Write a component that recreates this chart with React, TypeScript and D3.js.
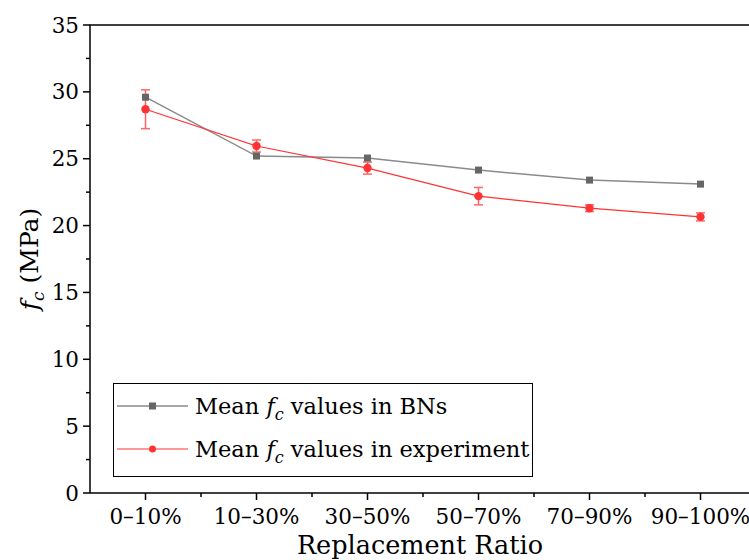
import React from "react";
import * as d3 from "d3";

const categories = ["0–10%", "10–30%", "30–50%", "50–70%", "70–90%", "90–100%"];
const bnValues = [29.6, 25.2, 25.05, 24.15, 23.4, 23.1];
const expValues = [28.7, 25.95, 24.3, 22.2, 21.3, 20.65];
const expErrors = [1.45, 0.45, 0.45, 0.65, 0.25, 0.3];
const yTicks = [0, 5, 10, 15, 20, 25, 30, 35];

const W = 749;
const H = 560;
const margin = { left: 90, top: 25, right: -7, bottom: 67 };
const FONT = "DejaVu Serif, serif";
const GRAY = "#666666";
const GRAY_LINE = "#8a8a8a";
const RED = "#ff3333";

export default function App() {
  const x = d3
    .scaleLinear()
    .domain([-0.5, categories.length - 0.5])
    .range([margin.left, W - margin.right]);
  const y = d3.scaleLinear().domain([0, 35]).range([H - margin.bottom, margin.top]);

  const line = d3
    .line<number>()
    .x((d, i) => x(i))
    .y((d) => y(d));

  const minorY = d3.range(2.5, 35, 5);
  const minorX = d3.range(0.5, categories.length - 0.5, 1);
  const x0 = margin.left;
  const yb = H - margin.bottom;

  return (
    <svg width={W} height={H} style={{ position: "absolute", left: 0, top: 0, fontFamily: FONT }}>
      <rect width={W} height={H} fill="#fff" />
      {/* frame */}
      <path
        d={`M${x0},${yb}V${margin.top}H${W + 10}`}
        fill="none"
        stroke="#000"
        strokeWidth={1.5}
      />
      <line x1={x0} x2={W + 10} y1={yb} y2={yb} stroke="#000" strokeWidth={1.5} />
      {/* y ticks */}
      {yTicks.map((t) => (
        <g key={t}>
          <line x1={x0 - 7} x2={x0} y1={y(t)} y2={y(t)} stroke="#000" strokeWidth={1.5} />
          <text x={x0 - 11} y={y(t)} dy="0.35em" textAnchor="end" fontSize={21.5}>
            {t}
          </text>
        </g>
      ))}
      {minorY.map((t) => (
        <line key={t} x1={x0 - 4} x2={x0} y1={y(t)} y2={y(t)} stroke="#000" strokeWidth={1.5} />
      ))}
      {/* x ticks */}
      {categories.map((c, i) => (
        <g key={c}>
          <line x1={x(i)} x2={x(i)} y1={yb} y2={yb + 7} stroke="#000" strokeWidth={1.5} />
          <text x={x(i)} y={yb + 31} textAnchor="middle" fontSize={21.5}>
            {c}
          </text>
        </g>
      ))}
      {minorX.map((t) => (
        <line key={t} x1={x(t)} x2={x(t)} y1={yb} y2={yb + 4} stroke="#000" strokeWidth={1.5} />
      ))}
      {/* axis titles */}
      <text x={420} y={554} textAnchor="middle" fontSize={25.5}>
        Replacement Ratio
      </text>
      <text transform={`translate(38,${y(17.5)}) rotate(-90)`} textAnchor="middle" fontSize={25}>
        <tspan fontStyle="italic">f</tspan>
        <tspan fontStyle="italic" fontSize={17} dy={6}>c</tspan>
        <tspan dy={-6}> (MPa)</tspan>
      </text>
      {/* series lines */}
      <path d={line(bnValues) || ""} fill="none" stroke={GRAY_LINE} strokeWidth={1.5} />
      <path d={line(expValues) || ""} fill="none" stroke={RED} strokeWidth={1.2} />
      {/* error bars */}
      {expValues.map((v, i) => (
        <g key={i} stroke="#ff6666" strokeWidth={1.5}>
          <line x1={x(i)} x2={x(i)} y1={y(v - expErrors[i])} y2={y(v + expErrors[i])} />
          <line x1={x(i) - 4.5} x2={x(i) + 4.5} y1={y(v + expErrors[i])} y2={y(v + expErrors[i])} />
          <line x1={x(i) - 4.5} x2={x(i) + 4.5} y1={y(v - expErrors[i])} y2={y(v - expErrors[i])} />
        </g>
      ))}
      {/* markers */}
      {bnValues.map((v, i) => (
        <rect key={i} x={x(i) - 3.5} y={y(v) - 3.5} width={7} height={7} fill={GRAY} />
      ))}
      {expValues.map((v, i) => (
        <circle key={i} cx={x(i)} cy={y(v)} r={4.2} fill={RED} />
      ))}
      {/* legend */}
      <rect x={113.5} y={383.5} width={419} height={93} fill="#fff" stroke="#000" strokeWidth={1} />
      <line x1={117} x2={188} y1={406} y2={406} stroke={GRAY_LINE} strokeWidth={1.5} />
      <rect x={149} y={402.5} width={7} height={7} fill={GRAY} />
      <text x={195} y={406} dy="0.35em" fontSize={22.5}>
        Mean <tspan fontStyle="italic">f</tspan>
        <tspan fontStyle="italic" fontSize={16} dy={6}>c</tspan>
        <tspan dy={-6}> values in BNs</tspan>
      </text>
      <line x1={117} x2={188} y1={449} y2={449} stroke={RED} strokeWidth={1.2} />
      <circle cx={152.5} cy={449} r={3.5} fill={RED} />
      <text x={195} y={449} dy="0.35em" fontSize={22.5}>
        Mean <tspan fontStyle="italic">f</tspan>
        <tspan fontStyle="italic" fontSize={16} dy={6}>c</tspan>
        <tspan dy={-6}> values in experiment</tspan>
      </text>
    </svg>
  );
}
